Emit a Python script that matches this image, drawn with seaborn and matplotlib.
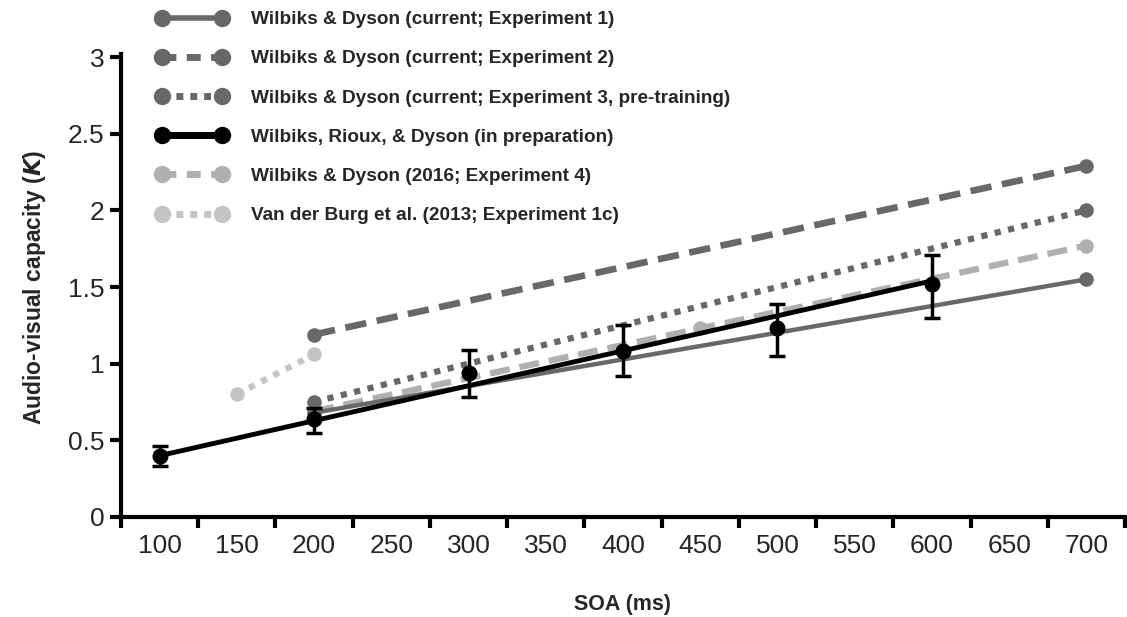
import numpy as np
import pandas as pd
import matplotlib
matplotlib.use("Agg")
import matplotlib.pyplot as plt
import seaborn as sns
from matplotlib.lines import Line2D

# ---- data ----
soa_fit = [200, 700]
exp1 = [0.68, 1.55]
exp2 = [1.19, 2.29]
exp3 = [0.75, 2.00]
wd2016_x = [200, 450, 700]
wd2016 = [0.69, 1.23, 1.77]
vdb_x = [150, 200]
vdb = [0.80, 1.06]

wrd_x = [100, 200, 300, 400, 500, 600]
wrd_mean = [0.40, 0.64, 0.94, 1.08, 1.23, 1.52]
wrd_lo = [0.33, 0.55, 0.78, 0.92, 1.05, 1.30]
wrd_hi = [0.46, 0.71, 1.09, 1.25, 1.39, 1.71]
wrd_fit_x = [100, 600]
wrd_fit = [0.40, 1.54]

labels = [
    "Wilbiks & Dyson (current; Experiment 1)",
    "Wilbiks & Dyson (current; Experiment 2)",
    "Wilbiks & Dyson (current; Experiment 3, pre-training)",
    "Wilbiks, Rioux, & Dyson (in preparation)",
    "Wilbiks & Dyson (2016; Experiment 4)",
    "Van der Burg et al. (2013; Experiment 1c)",
]
x_ticklabels = [str(v) for v in range(100, 701, 50)]
y_ticks = [0, 0.5, 1, 1.5, 2, 2.5, 3]
y_ticklabels = ["0", "0.5", "1", "1.5", "2", "2.5", "3"]

DARK = "#686868"
LIGHT = "#b0b0b0"
LIGHTER = "#c4c4c4"

sns.set_style("ticks")
plt.rcParams["font.family"] = ["Liberation Sans", "DejaVu Sans"]

fig = plt.figure(figsize=(11.27, 6.17), dpi=100)
ax = fig.add_axes([121 / 1127, 1 - 517 / 617, 1004 / 1127, 460 / 617])

ms = 10.5

def draw(x, y, color, ls, lw, z):
    df = pd.DataFrame({"x": x, "y": y})
    sns.lineplot(data=df, x="x", y="y", ax=ax, color=color, linewidth=lw,
                 marker="o", markersize=ms, markeredgewidth=0, zorder=z,
                 estimator=None, sort=True, linestyle=ls)

# Van der Burg
draw(vdb_x, vdb, LIGHTER, (0, (1, 1.2)), 4.5, 2)
# 2016 Exp 4 (fit line + points)
draw(wd2016_x, wd2016, LIGHT, (0, (3.2, 1.6)), 4.5, 2)
# Exp 1
draw(soa_fit, exp1, DARK, "-", 3.2, 3)
# Exp 3
draw(soa_fit, exp3, DARK, (0, (1, 1.2)), 4.5, 3)
# Exp 2
draw(soa_fit, exp2, DARK, (0, (3.2, 1.6)), 4.8, 3)

# Wilbiks, Rioux & Dyson: fit line + means with error bars
sns.lineplot(x=wrd_fit_x, y=wrd_fit, ax=ax, color="black", linewidth=3.5, zorder=5)
m = np.array(wrd_mean)
yerr = np.vstack([m - np.array(wrd_lo), np.array(wrd_hi) - m])
ax.errorbar(wrd_x, wrd_mean, yerr=yerr, fmt="o", color="black", markersize=ms,
            elinewidth=2.5, capsize=6, capthick=2.5, zorder=6)

# axes
ax.set_xlim(75, 725)
ax.set_ylim(0, 3)
ax.set_xticks(np.arange(75, 726, 50))
ax.set_xticklabels([])
ax.set_xticks(np.arange(100, 701, 50), minor=True)
ax.set_xticklabels(x_ticklabels, minor=True)
ax.tick_params(axis="x", which="major", length=8, width=3, direction="out", color="black")
ax.tick_params(axis="x", which="minor", length=0, labelsize=19, pad=12)
ax.set_yticks(y_ticks)
ax.set_yticklabels(y_ticklabels)
ax.tick_params(axis="y", length=8, width=3, direction="out", labelsize=19, color="black", pad=4)
for s in ["left", "bottom"]:
    ax.spines[s].set_linewidth(3)
    ax.spines[s].set_color("black")
sns.despine(ax=ax)
ax.spines["left"].set_bounds(0, 3.02)

ax.set_xlabel("SOA (ms)", fontsize=15.5, fontweight="bold", labelpad=26)
ax.set_ylabel("Audio-visual capacity ($\\bfit{K}$)", fontsize=16.5, fontweight="bold", labelpad=14)

# legend
lms = 12.5
handles = [
    Line2D([], [], color=DARK, lw=4, ls="-", marker="o", markersize=lms, markeredgewidth=0),
    Line2D([], [], color=DARK, lw=5, ls=(0, (2, 1.5)), marker="o", markersize=lms, markeredgewidth=0),
    Line2D([], [], color=DARK, lw=5, ls=(0, (1, 1)), marker="o", markersize=lms, markeredgewidth=0),
    Line2D([], [], color="black", lw=5, ls="-", marker="o", markersize=lms, markeredgewidth=0),
    Line2D([], [], color=LIGHT, lw=5, ls=(0, (2, 1.5)), marker="o", markersize=lms, markeredgewidth=0),
    Line2D([], [], color=LIGHTER, lw=5, ls=(0, (1, 1)), marker="o", markersize=lms, markeredgewidth=0),
]
leg = fig.legend(handles, labels, loc="upper left", bbox_to_anchor=(139 / 1127, 1.01),
                 frameon=False, numpoints=2, handlelength=3.75, handletextpad=1.25,
                 labelspacing=1.15, prop={"weight": "bold", "size": 13.7})

fig.savefig("out.png", dpi=100)
